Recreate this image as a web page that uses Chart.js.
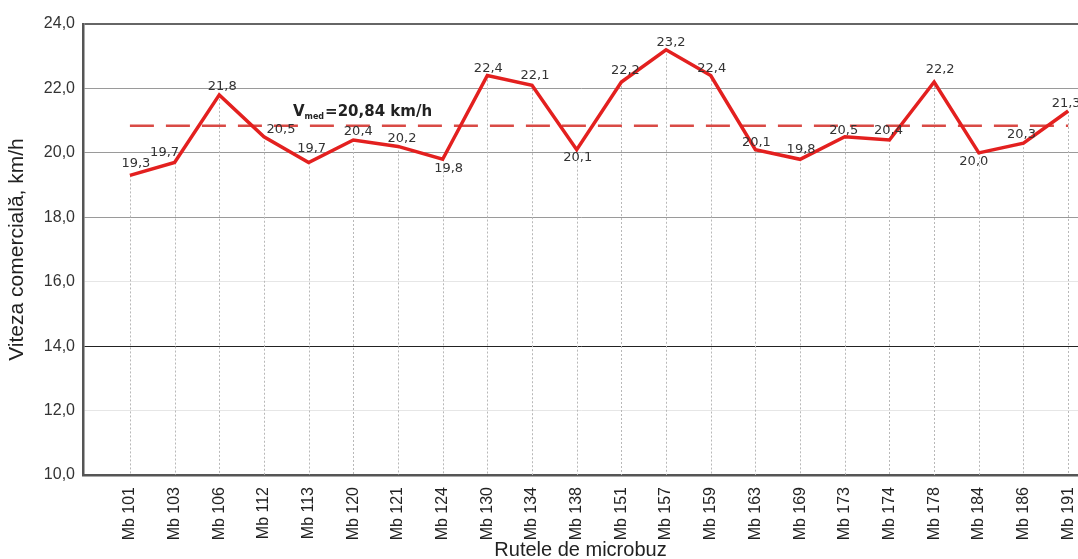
<!DOCTYPE html>
<html>
<head>
<meta charset="utf-8">
<script src="https://cdn.jsdelivr.net/npm/chart.js@4"></script>
<style>
html, body { margin: 0; padding: 0; background: #fff; overflow: hidden; }
#wrap { width: 1078px; height: 559px; position: relative; }
</style>
</head>
<body>
<div id="wrap"><canvas id="speedChart"></canvas></div>
<script>
var routes = ['Mb 101', 'Mb 103', 'Mb 106', 'Mb 112', 'Mb 113', 'Mb 120', 'Mb 121', 'Mb 124', 'Mb 130', 'Mb 134', 'Mb 138',
    'Mb 151', 'Mb 157', 'Mb 159', 'Mb 163', 'Mb 169', 'Mb 173', 'Mb 174', 'Mb 178', 'Mb 184', 'Mb 186', 'Mb 191'];
var speeds = [19.3, 19.7, 21.8, 20.5, 19.7, 20.4, 20.2, 19.8, 22.4, 22.1, 20.1,
    22.2, 23.2, 22.4, 20.1, 19.8, 20.5, 20.4, 22.2, 20.0, 20.3, 21.3];
var meanSpeed = 20.84;
var yMin = 10, yMax = 24, yStep = 2;

// where each value label sits relative to its point (px)
var labelDx = [6, -10, 3, 17, 3, 5, 4, 6, 1, 3, 1, 4, 5, 1, 1, 1, -1, -1, 6, -5, -2, -2];
var labelDy = [-12, -10, -8, -7, -14, -8, -8, 9, -7, -10, 8, -11, -7, -7, -7, -10, -6, -9, -12, 9, -9, -7];

function comma(v, d) {
    return v.toFixed(d).replace('.', ',');
}

var dropLines = {
    id: 'dropLines',
    beforeDatasetsDraw: function (chart) {
        var ctx = chart.ctx;
        var meta = chart.getDatasetMeta(0);
        var bottom = chart.chartArea.bottom;
        ctx.save();
        ctx.strokeStyle = '#b8b8b8';
        ctx.lineWidth = 1;
        ctx.setLineDash([2, 2]);
        meta.data.forEach(function (p) {
            var x = Math.round(p.x) + 0.5;
            ctx.beginPath();
            ctx.moveTo(x, p.y);
            ctx.lineTo(x, bottom);
            ctx.stroke();
        });
        ctx.restore();
    }
};

var valueLabels = {
    id: 'valueLabels',
    afterDatasetsDraw: function (chart) {
        var ctx = chart.ctx;
        var meta = chart.getDatasetMeta(0);
        ctx.save();
        ctx.font = '13px "DejaVu Sans"';
        ctx.fillStyle = '#333';
        ctx.textAlign = 'center';
        ctx.textBaseline = 'middle';
        meta.data.forEach(function (p, i) {
            ctx.fillText(comma(speeds[i], 1), p.x + labelDx[i], p.y + labelDy[i]);
        });

        // mean label
        var y = chart.scales.y.getPixelForValue(meanSpeed) - 14;
        var x = chart.chartArea.left + 210;
        ctx.textAlign = 'left';
        ctx.fillStyle = '#222';
        ctx.font = 'bold 15px "DejaVu Sans"';
        ctx.fillText('V', x, y);
        x += ctx.measureText('V').width;
        ctx.font = 'bold 8px "DejaVu Sans"';
        ctx.fillText('med', x, y + 5);
        x += ctx.measureText('med').width + 1;
        ctx.font = 'bold 15px "DejaVu Sans"';
        ctx.fillText('=' + comma(meanSpeed, 2) + ' km/h', x, y);
        ctx.restore();
    }
};

var ctx = document.getElementById('speedChart').getContext('2d');
var speedChart = new Chart(ctx, {
    type: 'line',
    data: {
        datasets: [{
            label: 'Viteza comercială',
            data: speeds.map(function (v, i) { return { x: i, y: v }; }),
            borderColor: '#e3201f',
            borderWidth: 3.5,
            pointRadius: 0,
            tension: 0
        }, {
            label: 'Vmed',
            data: [{ x: 0, y: meanSpeed }, { x: routes.length - 1, y: meanSpeed }],
            borderColor: '#d94a45',
            borderWidth: 2.5,
            borderDash: [24, 12],
            pointRadius: 0
        }]
    },
    options: {
        responsive: true,
        maintainAspectRatio: false,
        animation: false,
        layout: { padding: { top: 24, right: 0, bottom: 0, left: 0 } },
        plugins: {
            legend: { display: false },
            tooltip: { enabled: false }
        },
        scales: {
            x: {
                type: 'linear',
                min: -1.05,
                max: 21.22,
                afterBuildTicks: function (scale) {
                    scale.ticks = routes.map(function (r, i) { return { value: i }; });
                },
                afterFit: function (scale) {
                    scale.height = 84;
                    scale.paddingRight = 0;
                    scale.paddingLeft = 0;
                },
                grid: { display: false },
                border: { display: true, color: '#555', width: 2.5 },
                ticks: {
                    autoSkip: false,
                    maxRotation: 90,
                    minRotation: 90,
                    padding: 4,
                    color: '#222',
                    font: { family: '"Liberation Sans", Arial', size: 16 },
                    callback: function (v) { return routes[v]; }
                },
                title: {
                    display: true,
                    text: 'Rutele de microbuz',
                    color: '#222',
                    padding: { top: 0, bottom: -3 },
                    font: { family: '"Liberation Sans", Arial', size: 20 }
                }
            },
            y: {
                min: yMin,
                max: yMax,
                afterFit: function (scale) { scale.width = 83; },
                border: { display: true, color: '#555', width: 2.5 },
                grid: {
                    drawTicks: false,
                    color: function (c) {
                        var v = c.tick.value;
                        if (v === 24) return '#666';
                        if (v === 14) return '#222';
                        if (v === 16 || v === 12) return '#e6e6e6';
                        return '#9a9a9a';
                    },
                    lineWidth: function (c) { return c.tick.value === 24 ? 2 : 1; }
                },
                ticks: {
                    stepSize: yStep,
                    padding: 8,
                    color: '#333',
                    font: { family: '"Liberation Sans", Arial', size: 16 },
                    callback: function (v) { return comma(v, 1); }
                },
                title: {
                    display: true,
                    text: 'Viteza comercială, km/h',
                    color: '#222',
                    padding: { top: 5, bottom: 0 },
                    font: { family: '"Liberation Sans", Arial', size: 21 }
                }
            }
        }
    },
    plugins: [dropLines, valueLabels]
});
</script>
</body>
</html>
